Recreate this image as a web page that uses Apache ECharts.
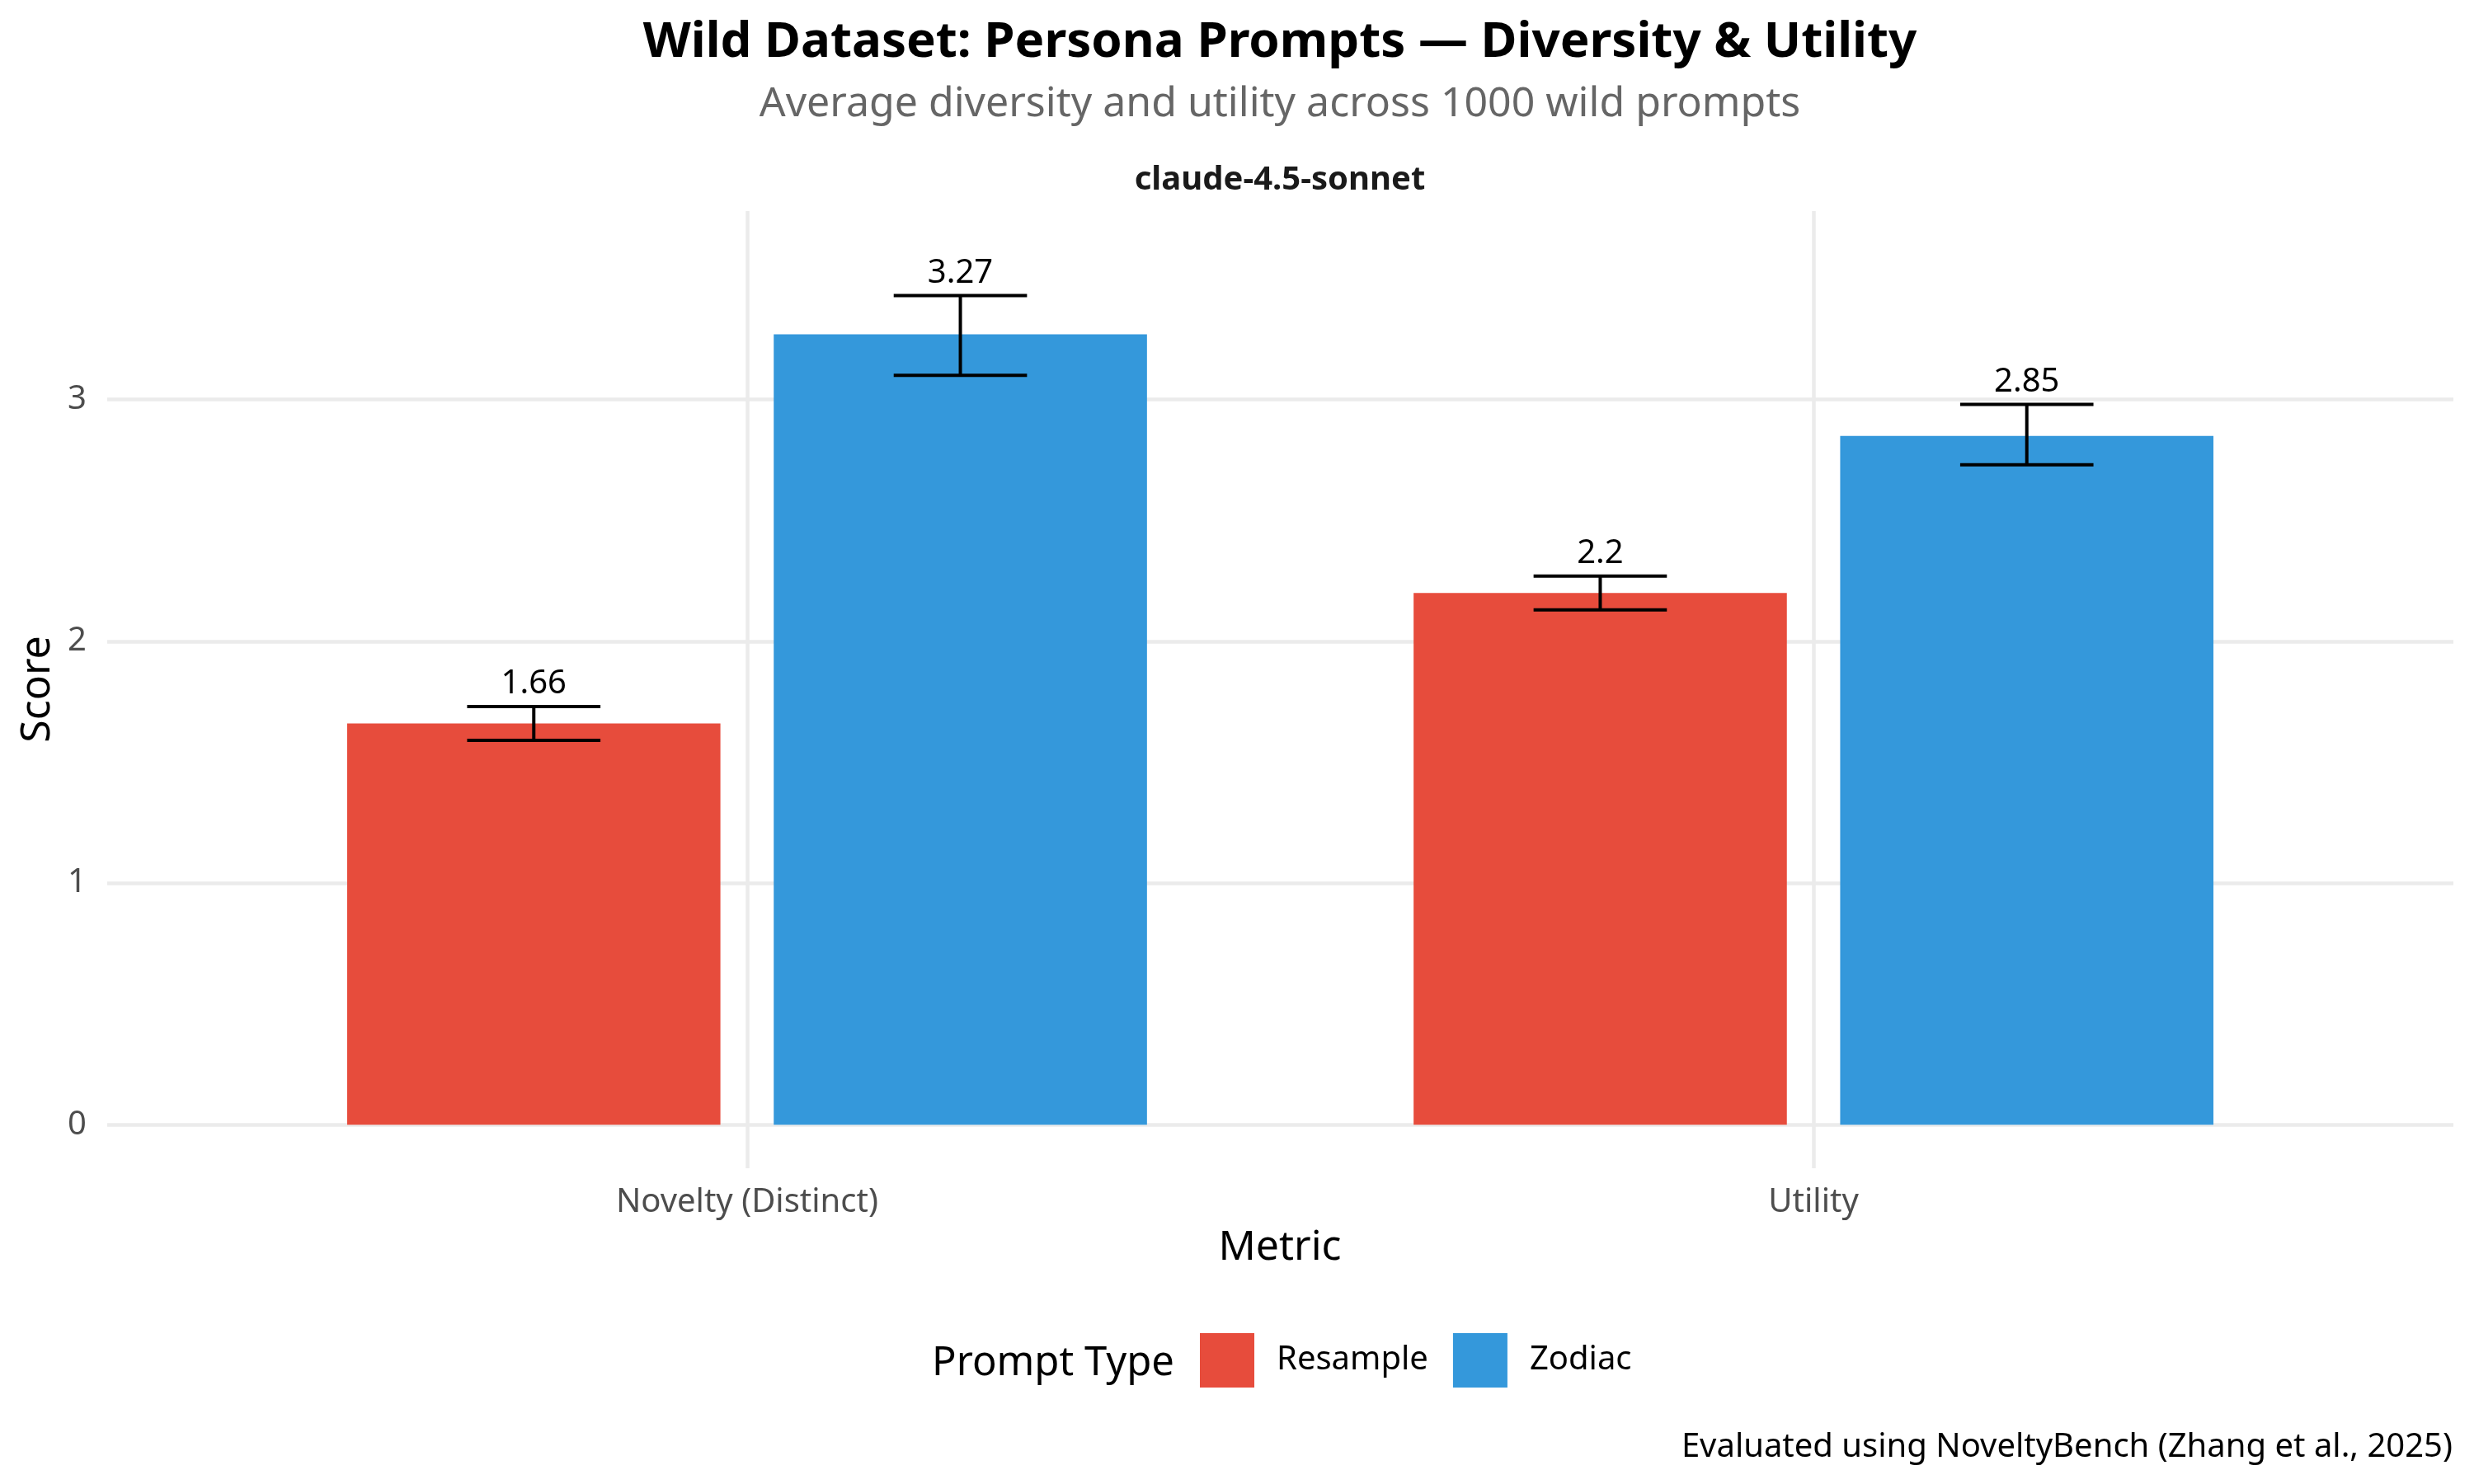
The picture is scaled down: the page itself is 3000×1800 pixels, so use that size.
<!DOCTYPE html>
<html><head><meta charset="utf-8">
<script src="https://cdn.jsdelivr.net/npm/echarts@6/dist/echarts.min.js"></script>
<style>html,body{margin:0;padding:0;background:#fff}#c{width:3000px;height:1800px}</style>
</head><body><div id="c"></div>
<script>
// ---- data ----
const categories = ['Novelty (Distinct)', 'Utility'];
const promptTypes = ['Resample', 'Zodiac'];
const resampleMean = [1.66, 2.2];
const resampleLow = [1.59, 2.13];
const resampleHigh = [1.73, 2.27];
const zodiacMean = [3.27, 2.85];
const zodiacLow = [3.10, 2.73];
const zodiacHigh = [3.43, 2.98];
const yTicks = [0, 1, 2, 3];
const xTicks = [1, 2];

// ---- style ----
const FF = '"Noto Sans", "Open Sans", sans-serif';
const colors = { Resample: '#E74C3C', Zodiac: '#3498DB' };
const dodge = { Resample: -0.2, Zodiac: 0.2 };
const barHalf = 0.175, whiskerHalf = 0.0625;

function makeSeries(name, mean, low, high) {
  const data = categories.map((c, i) => [xTicks[i], mean[i], low[i], high[i]]);
  return {
    name: name,
    type: 'custom',
    data: data,
    dimensions: ['x', 'mean', 'low', 'high'],
    encode: { x: 0, y: 1 },
    itemStyle: { color: colors[name] },
    renderItem: function (params, api) {
      const x = api.value(0) + dodge[name];
      const m = api.value(1), lo = api.value(2), hi = api.value(3);
      const p0 = api.coord([x - barHalf, m]);
      const p1 = api.coord([x + barHalf, 0]);
      const wl = api.coord([x - whiskerHalf, hi]);
      const wr = api.coord([x + whiskerHalf, lo]);
      const cx = api.coord([x, 0])[0];
      const ls = { stroke: '#000', lineWidth: 4 };
      return {
        type: 'group',
        children: [
          { type: 'rect', shape: { x: p0[0], y: p0[1], width: p1[0] - p0[0], height: p1[1] - p0[1] }, style: { fill: colors[name] } },
          { type: 'line', shape: { x1: wl[0], y1: wl[1], x2: wr[0], y2: wl[1] }, style: ls },
          { type: 'line', shape: { x1: wl[0], y1: wr[1], x2: wr[0], y2: wr[1] }, style: ls },
          { type: 'line', shape: { x1: cx, y1: wl[1], x2: cx, y2: wr[1] }, style: ls },
          { type: 'text', x: cx, y: wl[1] - 27, style: { text: String(m), font: '40px ' + FF, fill: '#000', align: 'center', verticalAlign: 'middle' } }
        ]
      };
    }
  };
}

function txt(text, x, y, font, color, align, rot) {
  return {
    type: 'text', x: x, y: y, rotation: rot || 0,
    style: { text: text, font: font, fill: color, textAlign: align, align: align, textVerticalAlign: 'middle', verticalAlign: 'middle' }
  };
}

const chart = echarts.init(document.getElementById('c'), null, { renderer: 'canvas' });
chart.setOption({
  backgroundColor: '#fff',
  animation: false,
  grid: { left: 130, right: 25, top: 256, bottom: 383, containLabel: false, outerBoundsMode: 'none' },
  xAxis: {
    type: 'value', min: 0.4, max: 2.6,
    axisLine: { show: false },
    axisTick: { show: false, customValues: xTicks },
    axisLabel: {
      customValues: xTicks,
      formatter: function (v) { return categories[xTicks.indexOf(Math.round(v))] || ''; },
      fontSize: 40, fontFamily: FF, color: '#4D4D4D', margin: 22
    },
    splitLine: { show: true, lineStyle: { color: '#EBEBEB', width: 4.5 } }
  },
  yAxis: {
    type: 'value', min: -0.18, max: 3.78,
    axisLine: { show: false },
    axisTick: { show: false, customValues: yTicks },
    axisLabel: { customValues: yTicks, fontSize: 40, fontFamily: FF, color: '#4D4D4D', margin: 25 },
    splitLine: { show: true, lineStyle: { color: '#EBEBEB', width: 4.5 } }
  },
  legend: {
    data: promptTypes, left: 1450, top: 1612, orient: 'horizontal', padding: 5,
    itemWidth: 66, itemHeight: 66, itemGap: 30, icon: 'rect', selectedMode: false,
    textStyle: { fontSize: 40, fontFamily: FF, color: '#000', padding: [0, 0, 0, 22] }
  },
  graphic: [
    txt('Wild Dataset: Persona Prompts \u2014 Diversity & Utility', 1552, 52, 'bold 60px ' + FF, '#000', 'center'),
    txt('Average diversity and utility across 1000 wild prompts', 1552, 127, '50px ' + FF, '#666666', 'center'),
    txt('claude-4.5-sonnet', 1552, 219, 'bold 40px ' + FF, '#1A1A1A', 'center'),
    txt('Score', 46, 836, '50px ' + FF, '#000', 'center', Math.PI / 2),
    txt('Metric', 1552, 1514, '50px ' + FF, '#000', 'center'),
    txt('Prompt Type', 1130, 1654, '49px ' + FF, '#000', 'left'),
    txt('Evaluated using NoveltyBench (Zhang et al., 2025)', 2974, 1756, '40px ' + FF, '#000', 'right')
  ],
  series: [
    makeSeries('Resample', resampleMean, resampleLow, resampleHigh),
    makeSeries('Zodiac', zodiacMean, zodiacLow, zodiacHigh)
  ]
});
</script></body></html>
